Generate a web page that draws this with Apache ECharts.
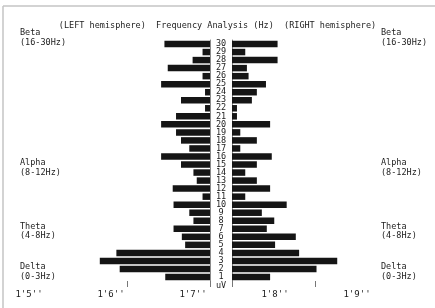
<!DOCTYPE html>
<html>
<head>
<meta charset="utf-8">
<script src="https://cdn.jsdelivr.net/npm/echarts@6.0.0/dist/echarts.min.js"></script>
<style>
html,body{margin:0;padding:0;background:#fff;}
#chart{width:435px;height:308px;}
</style>
</head>
<body>
<div id="chart"></div>
<script>
// Frequency bins (Hz), bottom to top
var freqs = ['1','2','3','4','5','6','7','8','9','10','11','12','13','14','15','16','17','18','19','20','21','22','23','24','25','26','27','28','29','30'];
// Amplitudes, LEFT hemisphere (index 0 = 1 Hz)
var leftValues = [5.4,10.9,13.3,11.3,3.0,3.4,4.4,2.0,2.5,4.4,0.9,4.5,1.6,2.0,3.5,5.9,2.5,3.5,4.1,5.9,4.1,0.6,3.5,0.6,5.9,0.9,5.1,2.1,0.9,5.5];
// Amplitudes, RIGHT hemisphere (index 0 = 1 Hz)
var rightValues = [4.6,10.2,12.7,8.1,5.2,7.7,4.2,5.1,3.6,6.6,1.6,4.6,3.0,1.6,3.0,4.8,1.0,3.0,1.0,4.6,0.6,0.6,2.4,3.0,4.1,2.0,1.8,5.5,1.6,5.5];
// Bottom scale labels
var bottomLabels = ["1'5''", "1'6''", "1'7''", "1'8''", "1'9''"];
// Band annotations
var bandNames = ['Beta', 'Alpha', 'Theta', 'Delta'];
var bandRanges = ['(16-30Hz)', '(8-12Hz)', '(4-8Hz)', '(0-3Hz)'];
var titleText = '(LEFT hemisphere)  Frequency Analysis (Hz)  (RIGHT hemisphere)';
var unitText = 'uV';

var MONO = '"DejaVu Sans Mono", "Liberation Mono", monospace';
var INK = '#1c1c1c';
var bandY = [38, 168, 231.5, 272];

var graphics = [
  {type:'line', shape:{x1:3, y1:6, x2:435, y2:6}, style:{stroke:'#c4c4c4', lineWidth:1.5}, silent:true},
  {type:'line', shape:{x1:3, y1:6, x2:3, y2:308}, style:{stroke:'#c4c4c4', lineWidth:1.5}, silent:true},
  {type:'text', x:221, y:286, style:{text:unitText, font:'8.5px ' + MONO, fill:INK, textAlign:'center', textVerticalAlign:'middle'}}
];
bandNames.forEach(function(n, i){
  [20, 381].forEach(function(x){
    graphics.push({type:'text', x:x, y:bandY[i], style:{text:n + '\n' + bandRanges[i], font:'8.5px ' + MONO, lineHeight:9.5, fill:INK, textAlign:'left', textVerticalAlign:'middle'}});
  });
});

var chart = echarts.init(document.getElementById('chart'), null, {renderer:'canvas'});
chart.setOption({
  animation:false,
  backgroundColor:'#ffffff',
  title:{text:titleText, left:'center', top:16, textStyle:{fontFamily:MONO, fontSize:8.5, fontWeight:'normal', color:INK}},
  graphic:graphics,
  grid:[
    {left:94, width:116, top:40, height:241, outerBoundsMode:'none', containLabel:false},
    {left:232, width:116, top:40, height:241, outerBoundsMode:'none', containLabel:false},
    {left:29, width:328, top:287, height:1, outerBoundsMode:'none', containLabel:false}
  ],
  xAxis:[
    {type:'value', gridIndex:0, inverse:true, min:0, max:14, interval:10,
     axisLine:{show:false}, splitLine:{show:false}, axisLabel:{show:false},
     axisTick:{show:true, customValues:[0,10], length:6, lineStyle:{color:'#777', width:1}}},
    {type:'value', gridIndex:1, min:0, max:14, interval:10,
     axisLine:{show:false}, splitLine:{show:false}, axisLabel:{show:false},
     axisTick:{show:true, customValues:[0,10], length:6, lineStyle:{color:'#777', width:1}}},
    {type:'category', gridIndex:2, data:bottomLabels, boundaryGap:false,
     axisLine:{show:false}, axisTick:{show:false}, splitLine:{show:false},
     axisLabel:{show:true, margin:2, fontFamily:MONO, fontSize:9, color:INK, interval:0}}
  ],
  yAxis:[
    {type:'category', gridIndex:0, data:freqs, position:'right',
     axisLine:{show:true, lineStyle:{color:'#8a8a8a', width:1}}, axisTick:{show:false}, splitLine:{show:false},
     axisLabel:{show:true, interval:0, align:'center', margin:11, fontFamily:MONO, fontSize:8.5, color:INK}},
    {type:'category', gridIndex:1, data:freqs, position:'left',
     axisLine:{show:true, lineStyle:{color:'#8a8a8a', width:1}}, axisTick:{show:false}, splitLine:{show:false},
     axisLabel:{show:false}},
    {type:'value', gridIndex:2, show:false}
  ],
  series:[
    {type:'bar', xAxisIndex:0, yAxisIndex:0, data:leftValues, barWidth:6.5, itemStyle:{color:'#151515'}, silent:true},
    {type:'bar', xAxisIndex:1, yAxisIndex:1, data:rightValues, barWidth:6.5, itemStyle:{color:'#151515'}, silent:true}
  ]
});
</script>
</body>
</html>
